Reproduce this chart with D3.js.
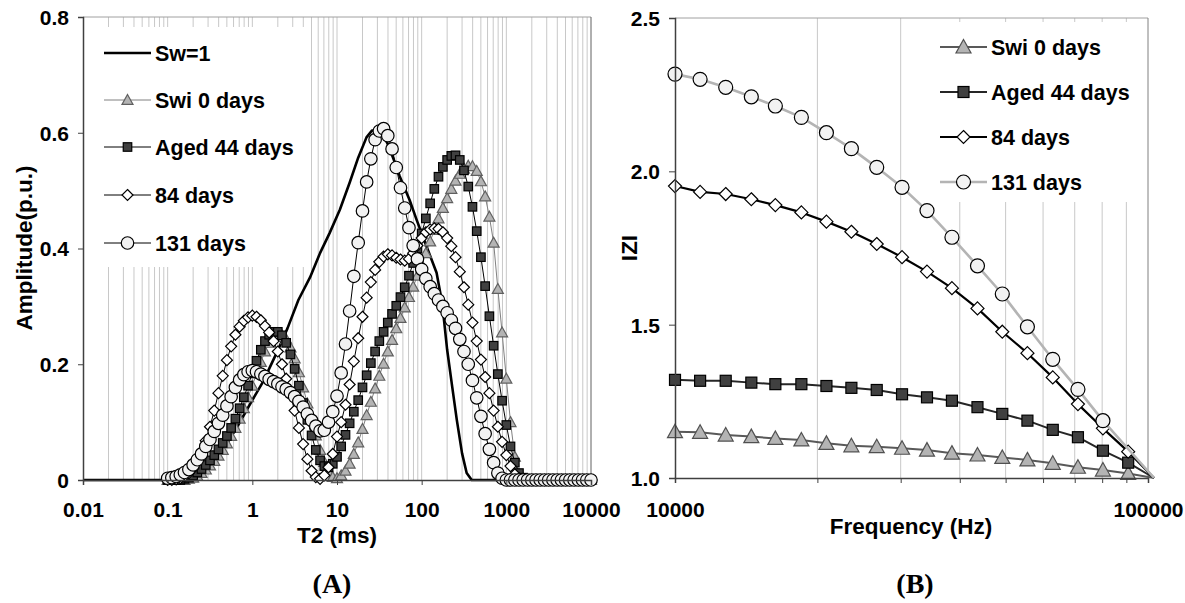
<!DOCTYPE html>
<html>
<head>
<meta charset="utf-8">
<script src="https://cdn.jsdelivr.net/npm/d3@7"></script>
<style>
body { margin: 0; background: #fff; }
text { font-family: "Liberation Sans", Arial, sans-serif; font-weight: bold; fill: #000; }
</style>
</head>
<body>
<svg id="chart" width="1185" height="603"></svg>
<script>
// ---- panel A : T2 distributions ----
var t2 = [0.1,0.112,0.126,0.141,0.158,0.178,0.2,0.224,0.251,0.282,0.316,0.355,0.398,0.447,0.501,0.562,0.631,0.708,0.794,0.891,
  1,1.12,1.26,1.41,1.58,1.78,2,2.24,2.51,2.82,3.16,3.55,3.98,4.47,5.01,5.62,6.31,7.08,7.94,8.91,
  10,11.2,12.6,14.1,15.8,17.8,20,22.4,25.1,28.2,31.6,35.5,39.8,44.7,50.1,56.2,63.1,70.8,79.4,89.1,
  100,112,126,141,158,178,200,224,251,282,316,355,398,447,501,562,631,708,794,891,
  1000,1120,1260,1410,1580,1780,2000,2240,2510,2820,3160,3550,3980,4470,5010,5620,6310,7080,7940,8910,10000];

var swi0 = [0,0,0,0,0,0.002,0.004,0.007,0.012,0.018,
  0.025,0.033,0.042,0.052,0.063,0.076,0.090,0.106,0.124,0.143,
  0.163,0.184,0.204,0.222,0.237,0.247,0.251,0.250,0.243,0.229,
  0.210,0.186,0.160,0.132,0.104,0.077,0.052,0.031,0.014,0.005,
  0.003,0.008,0.016,0.028,0.045,0.065,0.088,0.112,0.135,0.158,
  0.180,0.201,0.222,0.242,0.262,0.280,0.298,0.316,0.334,0.353,
  0.372,0.392,0.412,0.432,0.452,0.470,0.487,0.503,0.517,0.529,
  0.538,0.543,0.542,0.534,0.516,0.490,0.455,0.410,0.330,0.255,
  0.175,0.100,0.040,0.010,0.002,0,0,0,0,0,
  0,0,0,0,0,0,0,0,0,0,0];

var aged44 = [0,0,0,0,0.002,0.004,0.008,0.013,0.019,0.026,
  0.034,0.043,0.053,0.064,0.076,0.090,0.106,0.124,0.143,0.163,
  0.185,0.206,0.225,0.240,0.251,0.256,0.256,0.250,0.237,0.217,
  0.192,0.163,0.133,0.104,0.077,0.052,0.034,0.024,0.022,0.028,
  0.040,0.058,0.078,0.098,0.118,0.138,0.160,0.181,0.202,0.222,
  0.240,0.256,0.272,0.287,0.301,0.316,0.333,0.353,0.375,0.400,
  0.426,0.452,0.478,0.503,0.524,0.541,0.553,0.560,0.561,0.553,
  0.535,0.507,0.472,0.430,0.385,0.335,0.283,0.232,0.183,0.137,
  0.095,0.058,0.030,0.012,0.004,0,0,0,0,0,
  0,0,0,0,0,0,0,0,0,0,0];

var days84 = [0,0,0.001,0.003,0.006,0.012,0.020,0.032,0.048,0.068,
  0.092,0.120,0.150,0.180,0.207,0.231,0.251,0.265,0.275,0.281,
  0.284,0.282,0.276,0.266,0.255,0.240,0.222,0.200,0.175,0.148,
  0.120,0.090,0.062,0.036,0.016,0.005,0.002,0.008,0.022,0.045,
  0.075,0.100,0.130,0.165,0.205,0.245,0.282,0.315,0.342,0.363,
  0.377,0.386,0.390,0.388,0.384,0.381,0.379,0.382,0.392,0.405,
  0.418,0.428,0.433,0.435,0.434,0.428,0.418,0.404,0.385,0.360,
  0.333,0.303,0.272,0.240,0.208,0.178,0.150,0.120,0.092,0.066,
  0.043,0.024,0.010,0.003,0,0,0,0,0,0,
  0,0,0,0,0,0,0,0,0,0,0];

var days131 = [0.003,0.004,0.006,0.009,0.013,0.018,0.026,0.035,0.045,0.058,
  0.070,0.084,0.098,0.112,0.128,0.144,0.160,0.173,0.182,0.187,
  0.189,0.187,0.183,0.179,0.174,0.170,0.166,0.161,0.157,0.151,
  0.144,0.136,0.126,0.114,0.103,0.093,0.085,0.086,0.100,0.118,
  0.145,0.185,0.235,0.292,0.352,0.410,0.465,0.515,0.555,0.588,
  0.603,0.607,0.595,0.572,0.540,0.505,0.470,0.436,0.405,0.382,
  0.364,0.348,0.334,0.322,0.311,0.300,0.289,0.276,0.262,0.243,
  0.222,0.200,0.172,0.142,0.110,0.080,0.053,0.030,0.012,0.003,
  0,0,0,0,0,0,0,0,0,0,
  0,0,0,0,0,0,0,0,0,0,0];

// Sw=1 is a plain curve on its own T2 points
var sw1T2 = [0.01,0.15,0.2,0.3,0.5,0.7,1,1.34,2,2.6,3.5,4.8,6.3,8.2,10.8,14.2,17.8,22.3,26,30,
  35,40,47,55,72,87,114,150,175,200,230,260,300,340,390,10000];
var sw1Amp = [0,0,0.005,0.022,0.062,0.098,0.138,0.170,0.224,0.262,0.311,0.350,0.392,0.427,0.467,0.515,0.557,0.592,0.604,0.604,
  0.596,0.580,0.553,0.525,0.484,0.450,0.404,0.358,0.305,0.225,0.160,0.104,0.046,0.012,0,0];

var xTicksA = [0.01,0.1,1,10,100,1000,10000];
var yTicksA = [0,0.2,0.4,0.6,0.8];

// ---- panel B : impedance modulus ----
var freq = [10000,11300,12800,14500,16300,18500,20900,23600,26700,30200,
  34100,38500,43600,49200,55600,62900,71100,80300,90800,103000];
var zSwi0 = [1.151,1.149,1.140,1.135,1.129,1.124,1.113,1.105,1.102,1.097,
  1.091,1.081,1.075,1.067,1.059,1.048,1.035,1.026,1.015,1.0];
var zAged44 = [1.320,1.317,1.317,1.311,1.306,1.306,1.300,1.294,1.287,1.273,
  1.263,1.252,1.231,1.209,1.187,1.157,1.133,1.089,1.050,1.0];
var z84 = [1.952,1.933,1.926,1.909,1.890,1.866,1.836,1.803,1.763,1.720,
  1.673,1.619,1.553,1.477,1.407,1.328,1.241,1.162,1.086,1.0];
var z131 = [2.317,2.300,2.274,2.243,2.213,2.176,2.126,2.074,2.013,1.948,
  1.872,1.785,1.692,1.600,1.493,1.387,1.289,1.187,null,1.0];

var xTicksB = [10000,100000];
var yTicksB = [1.0,1.5,2.0,2.5];

var svg = d3.select("#chart");
svg.append("rect").attr("width",1185).attr("height",603).attr("fill","#fff");

// marker shapes
function drawMarker(g, kind, x, y, s, st){
    var h = s/2, m;
    if(kind == "tri"){
	m = g.append("path").attr("d","M"+x+","+(y-h)+"L"+(x+h)+","+(y+h*0.8)+"L"+(x-h)+","+(y+h*0.8)+"Z");
    } else if(kind == "sq"){
	m = g.append("rect").attr("x",x-h).attr("y",y-h).attr("width",s).attr("height",s);
    } else if(kind == "dia"){
	m = g.append("path").attr("d","M"+x+","+(y-h)+"L"+(x+h)+","+y+"L"+x+","+(y+h)+"L"+(x-h)+","+y+"Z");
    } else {
	m = g.append("circle").attr("cx",x).attr("cy",y).attr("r",h);
    }
    m.attr("fill",st.fill).attr("stroke",st.mstroke).attr("stroke-width",st.mw || 1.2);
}

function drawSeries(g, xs, ys, xScale, yScale, st, xMax){
    var pts = [];
    xs.forEach(function(x,i){ if(ys[i] !== null) pts.push([xScale(x), yScale(ys[i]), x]); });
    g.append("path")
	.attr("d", d3.line()(pts.map(function(p){ return [p[0],p[1]]; })))
	.attr("fill","none").attr("stroke",st.line).attr("stroke-width",st.lw)
	.attr("stroke-linejoin","round");
    if(!st.kind) return;
    pts.forEach(function(p){
	if(p[2] <= xMax) drawMarker(g, st.kind, p[0], p[1], st.size, st);
    });
}

function legendRow(g, x, y, label, st, len){
    g.append("line").attr("x1",x).attr("x2",x+len).attr("y1",y).attr("y2",y)
	.attr("stroke",st.line).attr("stroke-width",st.lw);
    if(st.kind) drawMarker(g, st.kind, x+len/2, y, st.size, st);
    g.append("text").attr("x",x+len+4).attr("y",y+7.5).attr("font-size",21.5).text(label);
}

function styleAxis(ax){
    ax.select(".domain").attr("stroke","#404040").attr("stroke-width",1.5);
    ax.selectAll(".tick line").attr("stroke","#404040");
    ax.selectAll("text").attr("font-size",21).attr("font-family","Liberation Sans, Arial").attr("font-weight","bold");
}

// ================= panel A =================
var xA = d3.scaleLog().domain([0.01,10000]).range([83,591]);
var yA = d3.scaleLinear().domain([0,0.8]).range([480,17]);
var gA = svg.append("g");

// vertical grid (every 1..9 of each decade)
var gridA = [];
xTicksA.slice(0,-1).forEach(function(d){
    [1,2,3,4,5,6,7,8,9].forEach(function(m){ if(!(m==1 && d==0.01)) gridA.push(m*d); });
});
gA.selectAll(".gridA").data(gridA).enter().append("line")
    .attr("x1",function(d){ return xA(d); }).attr("x2",function(d){ return xA(d); })
    .attr("y1",yA(0.8)).attr("y2",yA(0))
    .attr("stroke","#c8c8c8").attr("stroke-width",1);

// frame
gA.append("line").attr("x1",xA(0.01)).attr("x2",xA(10000)).attr("y1",yA(0.8)).attr("y2",yA(0.8))
    .attr("stroke","#a0a0a0");
gA.append("line").attr("x1",xA(10000)).attr("x2",xA(10000)).attr("y1",yA(0.8)).attr("y2",yA(0))
    .attr("stroke","#606060");

// legend box (covers grid)
gA.append("rect").attr("x",88).attr("y",27).attr("width",217).attr("height",240).attr("fill","#fff");

var stSw1 = {line:"#000", lw:2.6};
var stTriA = {kind:"tri", line:"#808080", lw:1, fill:"#b4b4b4", mstroke:"#606060", size:11};
var stSqA = {kind:"sq", line:"#000", lw:1, fill:"#404040", mstroke:"#000", size:8.5};
var stDiaA = {kind:"dia", line:"#000", lw:1, fill:"#fff", mstroke:"#000", size:11};
var stCirA = {kind:"circ", line:"#000", lw:1, fill:"#f2f2f2", mstroke:"#000", size:12.5};

drawSeries(gA, sw1T2, sw1Amp, xA, yA, stSw1, 10000);
drawSeries(gA, t2, swi0, xA, yA, stTriA, 10000);
drawSeries(gA, t2, aged44, xA, yA, stSqA, 10000);
drawSeries(gA, t2, days84, xA, yA, stDiaA, 10000);
drawSeries(gA, t2, days131, xA, yA, stCirA, 10000);

// axes
var axA = d3.axisBottom(xA).tickValues(xTicksA).tickSize(5).tickFormat(function(d){ return String(d); });
var axisXA = gA.append("g").attr("transform","translate(0,"+yA(0)+")").call(axA);
styleAxis(axisXA);
axisXA.selectAll("text").attr("dy",0).attr("y",37);

var ayA = d3.axisLeft(yA).tickValues(yTicksA).tickSize(5).tickFormat(function(d){ return d==0 ? "0" : d3.format(".1f")(d); });
var axisYA = gA.append("g").attr("transform","translate("+xA(0.01)+",0)").call(ayA);
styleAxis(axisYA);
axisYA.selectAll("text").attr("x",-14).attr("dy","0.35em");

gA.append("text").attr("x",337).attr("y",543).attr("text-anchor","middle").attr("font-size",22.5).text("T2 (ms)");
gA.append("text").attr("transform","translate(32,248) rotate(-90)").attr("text-anchor","middle")
    .attr("font-size",22.5).text("Amplitude(p.u.)");
gA.append("text").attr("x",332).attr("y",593).attr("text-anchor","middle")
    .attr("font-size",28).style("font-family","'Liberation Serif','Times New Roman',serif").text("(A)");

// legend A
var legA = [["Sw=1",stSw1],["Swi 0 days",stTriA],["Aged 44 days",stSqA],["84 days",stDiaA],["131 days",stCirA]];
var legAy = [53,100,147,195,243];
legA.forEach(function(l,i){ legendRow(gA, 104, legAy[i], l[0], l[1], 47); });

// ================= panel B =================
var xB = d3.scaleLog().domain([10000,100000]).range([675,1148]);
var yB = d3.scaleLinear().domain([1,2.5]).range([478,18]);
var gB = svg.append("g");

var gridB = [20000,30000,40000,50000,60000,70000,80000,90000];
gB.selectAll(".gridB").data(gridB).enter().append("line")
    .attr("x1",function(d){ return xB(d); }).attr("x2",function(d){ return xB(d); })
    .attr("y1",yB(2.5)).attr("y2",yB(1))
    .attr("stroke","#c8c8c8").attr("stroke-width",1);
gB.append("line").attr("x1",xB(10000)).attr("x2",xB(100000)).attr("y1",yB(2.5)).attr("y2",yB(2.5))
    .attr("stroke","#a0a0a0");
gB.append("line").attr("x1",xB(100000)).attr("x2",xB(100000)).attr("y1",yB(2.5)).attr("y2",yB(1))
    .attr("stroke","#808080");

gB.append("rect").attr("x",933).attr("y",22).attr("width",205).attr("height",180).attr("fill","#fff");

var stTriB = {kind:"tri", line:"#595959", lw:2, fill:"#b4b4b4", mstroke:"#505050", size:15};
var stSqB = {kind:"sq", line:"#262626", lw:2, fill:"#404040", mstroke:"#000", size:11};
var stDiaB = {kind:"dia", line:"#000", lw:2.2, fill:"#fff", mstroke:"#000", size:13};
var stCirB = {kind:"circ", line:"#b4b4b4", lw:2.6, fill:"#f2f2f2", mstroke:"#000", size:14};

drawSeries(gB, freq, zSwi0, xB, yB, stTriB, 100000);
drawSeries(gB, freq, zAged44, xB, yB, stSqB, 100000);
drawSeries(gB, freq, z84, xB, yB, stDiaB, 100000);
drawSeries(gB, freq, z131, xB, yB, stCirB, 100000);

var axB = d3.axisBottom(xB).tickValues(xTicksB.concat(gridB)).tickSize(5)
    .tickFormat(function(d){ return xTicksB.indexOf(d) >= 0 ? String(d) : ""; });
var axisXB = gB.append("g").attr("transform","translate(0,"+yB(1)+")").call(axB);
styleAxis(axisXB);
axisXB.selectAll("text").attr("dy",0).attr("y",39);

var ayB = d3.axisLeft(yB).tickValues(yTicksB).tickSize(6).tickFormat(d3.format(".1f"));
var axisYB = gB.append("g").attr("transform","translate("+xB(10000)+",0)").call(ayB);
styleAxis(axisYB);
axisYB.selectAll("text").attr("x",-15).attr("dy","0.35em");

gB.append("text").attr("x",911).attr("y",534).attr("text-anchor","middle").attr("font-size",22.5).text("Frequency (Hz)");
gB.append("text").attr("transform","translate(637,248) rotate(-90)").attr("text-anchor","middle")
    .attr("font-size",22.5).text("IZI");
gB.append("text").attr("x",915).attr("y",593).attr("text-anchor","middle")
    .attr("font-size",28).style("font-family","'Liberation Serif','Times New Roman',serif").text("(B)");

var legB = [["Swi 0 days",stTriB],["Aged 44 days",stSqB],["84 days",stDiaB],["131 days",stCirB]];
var legBy = [47,92,137,182];
legB.forEach(function(l,i){ legendRow(gB, 940, legBy[i], l[0], l[1], 47); });
</script>
</body>
</html>
